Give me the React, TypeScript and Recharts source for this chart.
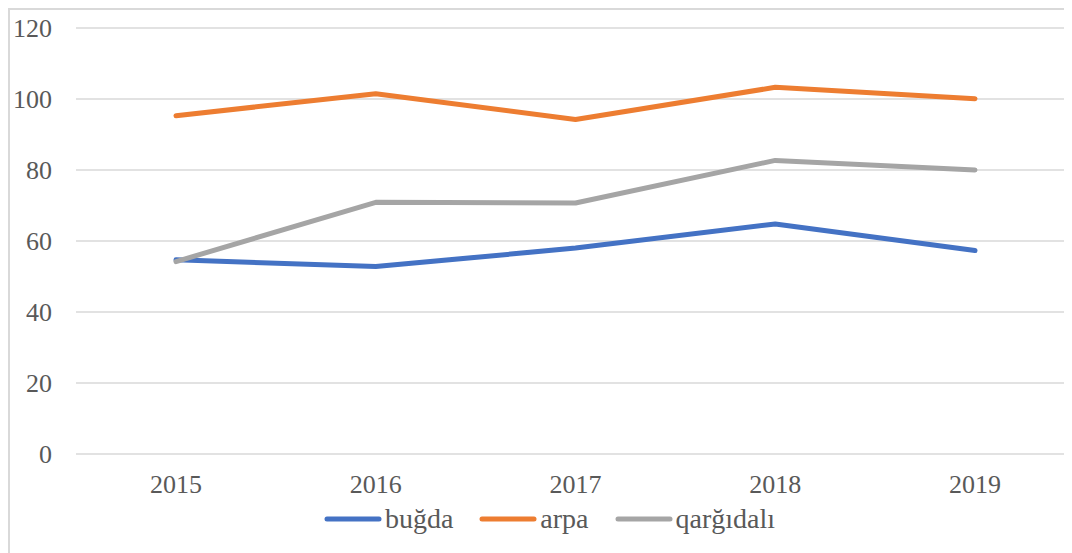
import React from 'react';
import { LineChart, Line, XAxis, YAxis, CartesianGrid, Legend } from 'recharts';

const years = ['2015', '2016', '2017', '2018', '2019'];
const bugda = [54.7, 52.8, 58.0, 64.8, 57.3];
const arpa = [95.3, 101.5, 94.2, 103.3, 100.1];
const qargidali = [54.2, 70.9, 70.7, 82.7, 80.0];
const yTicks = [0, 20, 40, 60, 80, 100, 120];

const SERIES = [
  { key: 'bugda', name: 'buğda', color: '#4472C4', values: bugda },
  { key: 'arpa', name: 'arpa', color: '#ED7D31', values: arpa },
  { key: 'qargidali', name: 'qarğıdalı', color: '#A5A5A5', values: qargidali },
];

const FONT = 'Liberation Serif';
const TEXT_COLOR = '#595959';

const data = years.map((year, i) => {
  const row: any = { year };
  SERIES.forEach(s => {
    row[s.key] = s.values[i];
  });
  return row;
});

const LegendContent = () => (
  <div
    style={{
      display: 'flex',
      justifyContent: 'center',
      alignItems: 'center',
      height: 40,
      paddingLeft: 8,
      fontFamily: FONT,
      fontSize: 28,
      color: TEXT_COLOR,
    }}
  >
    {SERIES.map((s, i) => (
      <div key={s.key} style={{ display: 'flex', alignItems: 'center', marginLeft: i === 0 ? 0 : 26 }}>
        <svg width={58} height={8} style={{ marginRight: 3 }}>
          <line x1={3} y1={4} x2={55} y2={4} stroke={s.color} strokeWidth={5} strokeLinecap="round" />
        </svg>
        <span style={{ lineHeight: '40px' }}>{s.name}</span>
      </div>
    ))}
  </div>
);

export default function App() {
  return (
    <div style={{ width: 1064, height: 545, overflow: 'hidden' }}>
      <div style={{ width: 1100, height: 560, border: '2px solid #d9d9d9', background: '#fff' }}>
        <LineChart width={1100} height={560} data={data} margin={{ top: 18, right: 35, left: 6, bottom: 31 }}>
          <CartesianGrid vertical={false} stroke="#d9d9d9" strokeWidth={1.5} />
          <XAxis
            dataKey="year"
            axisLine={false}
            tickLine={false}
            tickSize={0}
            tickMargin={21}
            height={45}
            padding={{ left: 100, right: 100 }}
            tick={{ fontFamily: FONT, fontSize: 26, fill: TEXT_COLOR }}
          />
          <YAxis
            domain={[0, 120]}
            ticks={yTicks}
            axisLine={false}
            tickLine={false}
            tickSize={0}
            tickMargin={24}
            width={60}
            tick={{ fontFamily: FONT, fontSize: 26, fill: TEXT_COLOR }}
          />
          <Legend verticalAlign="bottom" content={<LegendContent />} />
          {SERIES.map(s => (
            <Line
              key={s.key}
              dataKey={s.key}
              name={s.name}
              stroke={s.color}
              strokeWidth={5}
              strokeLinecap="round"
              strokeLinejoin="round"
              dot={false}
              activeDot={false}
              isAnimationActive={false}
            />
          ))}
        </LineChart>
      </div>
    </div>
  );
}
